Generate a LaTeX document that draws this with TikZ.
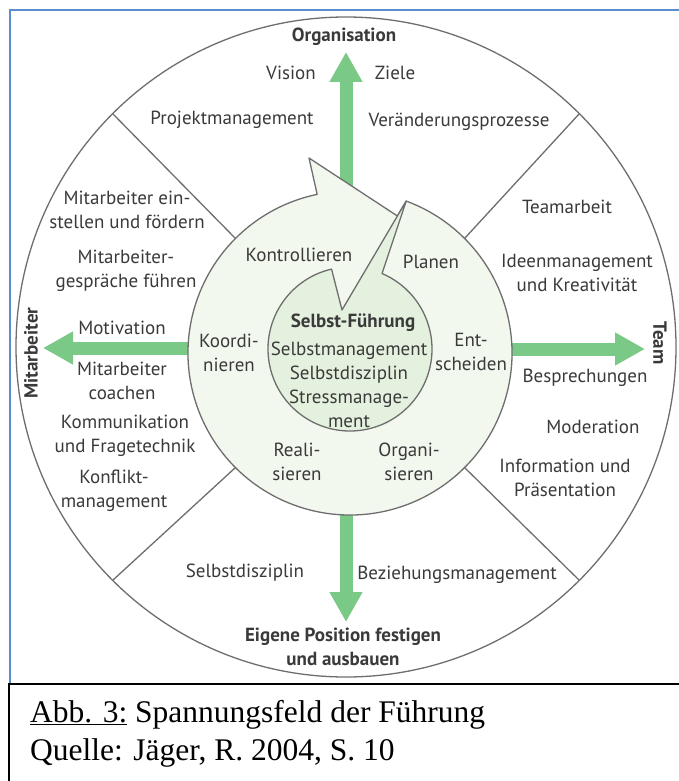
\documentclass[tikz,border=0pt]{standalone}
\usepackage{fontspec}
\setmainfont{Liberation Serif}
\newfontfamily\labfont{PT Sans}
\usetikzlibrary{arrows.meta,calc}
\definecolor{ringgreen}{RGB}{242,248,238}
\definecolor{innergreen}{RGB}{228,241,222}
\definecolor{arrowgreen}{RGB}{122,201,134}
\definecolor{linegray}{RGB}{110,110,110}
\definecolor{textgray}{RGB}{58,58,58}
\definecolor{frameblue}{RGB}{91,141,208}
\begin{document}
\begin{tikzpicture}[x=1pt,y=-1pt,
  lab/.style={font=\labfont\fontsize{19}{24}\selectfont, text=textgray, align=center, inner sep=0pt},
  labb/.style={font=\labfont\bfseries\fontsize{19}{24}\selectfont, text=textgray, align=center, inner sep=0pt},
  captext/.style={font=\fontsize{31.5}{38}\selectfont, text=black, anchor=west, inner sep=0pt},
  outline/.style={draw=linegray, line width=1.3pt, line join=round},
  bigarrow/.style={draw=arrowgreen, line width=13pt, -{Triangle[length=30pt,width=31pt]}}
  ]
\useasboundingbox (0,0) rectangle (679,781);
% frames
\draw[frameblue, line width=2pt] (10,684) -- (10,10) -- (679,10);
\draw[black, line width=2pt] (9,781) -- (9,684) -- (679,684);
% centres
\coordinate (co) at (346,347);
\coordinate (cm) at (350,353);
\coordinate (ci) at (350,349);
% outer circle
\path[outline, fill=white] (co) circle[radius=330];
% dividers
\coordinate (dulo) at ($(co)+(-135:330)$);
\coordinate (duli) at ($(cm)+(-135:162)$);
\coordinate (duro) at ($(co)+(-45:330)$);
\coordinate (duri) at ($(cm)+(-45:162)$);
\coordinate (dlro) at ($(co)+(45:330)$);
\coordinate (dlri) at ($(cm)+(45:162)$);
\coordinate (dllo) at ($(co)+(135:330)$);
\coordinate (dlli) at ($(cm)+(135:162)$);
\draw[outline] (dulo) -- (duli);
\draw[outline] (duro) -- (duri);
\draw[outline] (dlro) -- (dlri);
\draw[outline] (dllo) -- (dlli);
% green arrows
\coordinate (aus) at (346,300);
\coordinate (aut) at (346,52);
\coordinate (als) at (260,348);
\coordinate (alt) at (43,348);
\coordinate (ars) at (440,349);
\coordinate (art) at (645,349);
\coordinate (ads) at (346,420);
\coordinate (adt) at (346,622);
\draw[bigarrow] (aus) -- (aut);
\draw[bigarrow] (als) -- (alt);
\draw[bigarrow] (ars) -- (art);
\draw[bigarrow] (ads) -- (adt);
% ring arrow
\path[outline, fill=ringgreen]
  ($(cm)+(-69.7:162)$) coordinate (apex)
  arc[start angle=-69.7, end angle=258.3, radius=162] coordinate (ahb)
  -- (309,158) coordinate (barb)
  -- (397.4,216) coordinate (ahtip)
  -- cycle;
% inner disk with spike
\path[outline, fill=innergreen]
  ($(ci)+(-67:82)$) coordinate (spr)
  -- (apex) -- (342,310) coordinate (notch)
  -- ($(ci)+(-103:82)$)
  arc[start angle=-103, end angle=-427, radius=82] -- cycle;
% labels outer ring
\node[labb] (org) at (344,37) {Organisation};
\node[lab] (vision) at (291,73) {Vision};
\node[lab] (ziele) at (395,73) {Ziele};
\node[lab] (projekt) at (232,120) {Projektmanagement};
\node[lab] (veraend) at (459,122) {Veränderungsprozesse};
\node[lab] (mae) at (127,210) {Mitarbeiter ein-\\stellen und fördern};
\node[lab] (mag) at (126,271) {Mitarbeiter-\\gespräche führen};
\node[lab] (motiv) at (122,328) {Motivation};
\node[lab] (coach) at (122,381) {Mitarbeiter\\coachen};
\node[lab] (komm) at (125,436) {Kommunikation\\und Fragetechnik};
\node[lab] (konf) at (114,491) {Konflikt-\\management};
\node[labb, rotate=90] (mitarb) at (31,353) {Mitarbeiter};
\node[lab] (teamarb) at (567,207) {Teamarbeit};
\node[lab] (ideen) at (577,273) {Ideenmanagement\\und Kreativität};
\node[labb, rotate=-90] (team) at (660,343) {Team};
\node[lab] (bespr) at (585,378) {Besprechungen};
\node[lab] (moder) at (593,427) {Moderation};
\node[lab] (info) at (565,478) {Information und\\Präsentation};
\node[lab] (sdb) at (245,573) {Selbstdisziplin};
\node[lab] (bez) at (457,575) {Beziehungsmanagement};
\node[labb] (eig) at (343,647) {Eigene Position festigen\\und ausbauen};
% labels middle ring
\node[lab] (kontr) at (299,255) {Kontrollieren};
\node[lab] (planen) at (431,262) {Planen};
\node[lab] (koord) at (229,353) {Koordi-\\nieren};
\node[lab] (entsch) at (471,352) {Ent-\\scheiden};
\node[lab] (reali) at (297,462) {Reali-\\sieren};
\node[lab] (organi) at (409,462) {Organi-\\sieren};
% centre
\node[labb] (selbst) at (353,323) {Selbst-Führung};
\node[lab] (sm) at (349,385) {Selbstmanagement\\Selbstdisziplin\\Stressmanage-\\ment};
% caption
\node[captext] (abb) at (30,715) {\underline{Abb. 3:} Spannungsfeld der Führung};
\node[captext] (quelle) at (30,753) {Quelle: Jäger, R. 2004, S. 10};
\end{tikzpicture}
\end{document}
